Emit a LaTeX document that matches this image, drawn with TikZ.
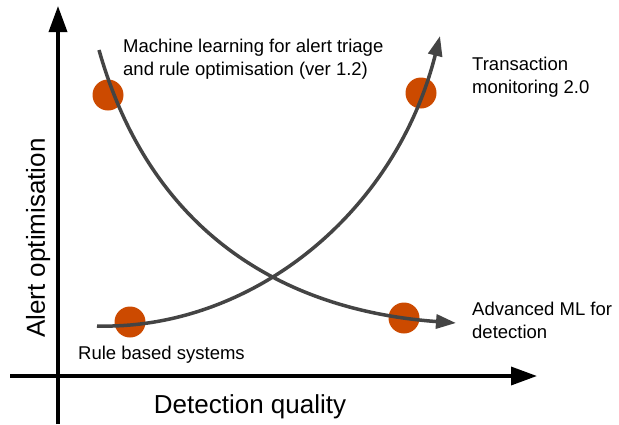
\documentclass[tikz,border=0pt]{standalone}
\usepackage{fontspec}
\setmainfont{Liberation Sans}
\usepackage{xcolor}
\usetikzlibrary{positioning}
\usetikzlibrary{calc,arrows.meta}

\definecolor{dotorange}{RGB}{204,74,0}
\definecolor{curvegrey}{RGB}{68,68,68}

\begin{document}
\begin{tikzpicture}[x=1pt,y=-1pt,
    dot/.style={circle,fill=dotorange,minimum size=31pt,inner sep=0pt},
    lbl/.style={align=left,font=\fontsize{18.5}{22.5}\selectfont,inner sep=0pt,anchor=base west},
    axislbl/.style={font=\fontsize{26}{30}\selectfont,inner sep=0pt,anchor=base},
    curve/.style={line width=3.5pt,draw=curvegrey,-{Triangle[length=20pt,width=14pt]}},
    axis/.style={line width=3.5pt,-{Triangle[length=26pt,width=18pt]}}]
   \useasboundingbox (0,0) rectangle (619,424);

   % axes
   \coordinate (xs) at (10,376);
   \coordinate (xe) at (537,376);
   \coordinate (ys) at (58,424);
   \coordinate (ye) at (58,6);
   \draw[axis] (xs) -- (xe);
   \draw[axis] (ys) -- (ye);

   % dots
   \node (ML)  [dot] at (108,95)  {};
   \node (TM)  [dot] at (421,93)  {};
   \node (RB)  [dot] at (130,322) {};
   \node (AML) [dot] at (404,318) {};

   % curves
   \coordinate (a0) at (99,50);
   \coordinate (a1) at (456,323);
   \coordinate (b0) at (97,326);
   \coordinate (b1) at (440,36);
   \draw[curve] (a0) .. controls (150,230) and (280,310) .. (a1);
   \draw[curve] (b0) .. controls (250,330) and (395,215) .. (b1);

   % labels (base = last line)
   \node (tML)  [lbl] at (123,75)  {Machine learning for alert triage\\and rule optimisation (ver 1.2)};
   \node (tTM)  [lbl] at (472,93)  {Transaction\\monitoring 2.0};
   \node (tAML) [lbl] at (472,338) {Advanced ML for\\detection};
   \node (tRB)  [lbl] at (78,359)  {Rule based systems};

   \node (xlab) [axislbl] at (250,413) {Detection quality};
   \node (ylab) [axislbl,rotate=90] at (45,238) {Alert optimisation};
\end{tikzpicture}
\end{document}
